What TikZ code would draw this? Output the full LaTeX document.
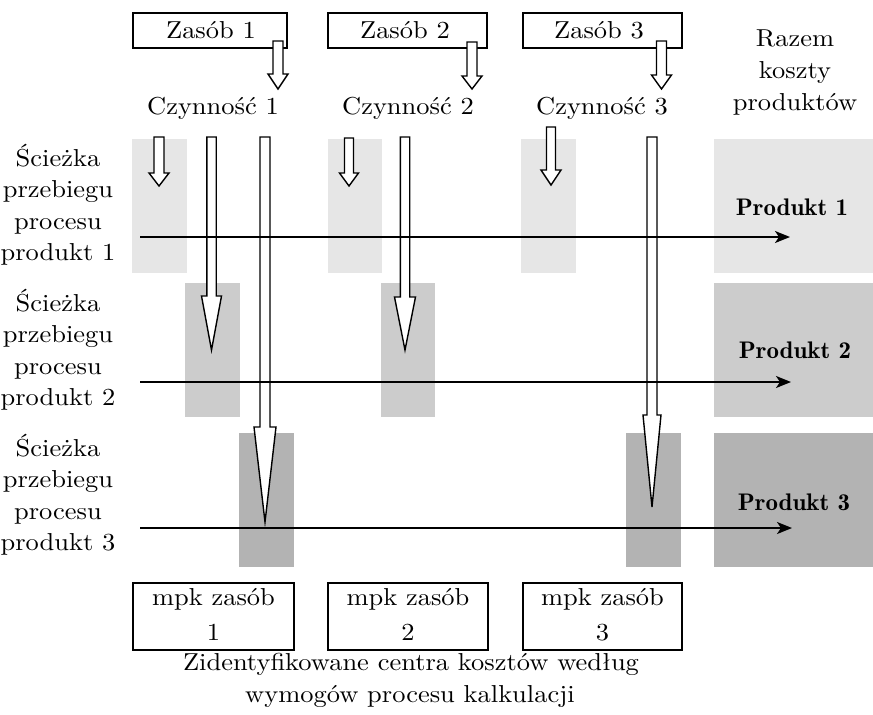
\documentclass[tikz,border=0pt]{standalone}
\usepackage{fontspec}
\setmainfont{lmroman10-regular.otf}[BoldFont=lmroman10-bold.otf, FakeStretch=1.08]
\newfontfamily\demifont{lmromandemi10-regular.otf}[FakeStretch=1.04]
\usetikzlibrary{arrows.meta}

\definecolor{rowA}{HTML}{E6E6E6}
\definecolor{rowB}{HTML}{CCCCCC}
\definecolor{rowC}{HTML}{B3B3B3}

\tikzset{
  txt/.style={font=\fontsize{24.5}{29}\selectfont, inner sep=0pt, anchor=base},
  btxt/.style={font=\demifont\fontsize{24}{28}\selectfont, inner sep=0pt, anchor=base},
  framebox/.style={draw=black, line width=2pt, fill=white, inner sep=0pt},
  hollow/.style={draw=black, fill=white, line width=1.4pt, line join=miter},
  flow/.style={line width=2pt, -{Stealth[length=15pt,width=12pt,inset=4pt]}},
}

% block arrow pointing down: x, top, head base, tip, shaft half width, head half width
\newcommand\blockdown[6]{%
  \draw[hollow] ({#1-#5},#2) -- ({#1+#5},#2) -- ({#1+#5},#3) -- ({#1+#6},#3)
    -- (#1,#4) -- ({#1-#6},#3) -- ({#1-#5},#3) -- cycle;}

\begin{document}
\begin{tikzpicture}[x=1pt,y=-1pt]
\useasboundingbox (0,0) rectangle (873,715);

% shaded process cells
\fill[rowA] (132,139) rectangle (187,273);
\fill[rowA] (328,139) rectangle (382,273);
\fill[rowA] (521,139) rectangle (576,273);
\fill[rowA] (714,139) rectangle (873,273);
\fill[rowB] (185,283) rectangle (240,417);
\fill[rowB] (381,283) rectangle (435,417);
\fill[rowB] (714,283) rectangle (873,417);
\fill[rowC] (239,433) rectangle (294,567);
\fill[rowC] (626,433) rectangle (681,567);
\fill[rowC] (714,433) rectangle (873,567);

% resource boxes
\node[framebox, minimum width=154pt, minimum height=35pt] (z1) at (210,30.5) {};
\node[framebox, minimum width=159pt, minimum height=35pt] (z2) at (407.5,30.5) {};
\node[framebox, minimum width=159pt, minimum height=35pt] (z3) at (602.5,30.5) {};
\node[txt] (z1t) at (211,38) {Zasób 1};
\node[txt] (z2t) at (405,38) {Zasób 2};
\node[txt] (z3t) at (599,38) {Zasób 3};

% activities
\node[txt] (c1) at (213,114) {Czynność 1};
\node[txt] (c2) at (408,114) {Czynność 2};
\node[txt] (c3) at (602,114) {Czynność 3};

% column header
\node[txt] (h1) at (795,46) {Razem};
\node[txt] (h2) at (795,78) {koszty};
\node[txt] (h3) at (795,110) {produktów};

% row labels
\node[txt] (a1) at (58,166) {Ścieżka};
\node[txt] (a2) at (58,197.5) {przebiegu};
\node[txt] (a3) at (58,229) {procesu};
\node[txt] (a4) at (58,260.5) {produkt 1};
\node[txt] (b1) at (58,311) {Ścieżka};
\node[txt] (b2) at (58,342.5) {przebiegu};
\node[txt] (b3) at (58,374) {procesu};
\node[txt] (b4) at (58,405.5) {produkt 2};
\node[txt] (d1) at (58,456) {Ścieżka};
\node[txt] (d2) at (58,487.5) {przebiegu};
\node[txt] (d3) at (58,519) {procesu};
\node[txt] (d4) at (58,550.5) {produkt 3};

% products
\node[btxt] (p1) at (792,215) {Produkt 1};
\node[btxt] (p2) at (795,358) {Produkt 2};
\node[btxt] (p3) at (794,510) {Produkt 3};

% cost centre boxes
\node[framebox, minimum width=161pt, minimum height=67pt] (m1) at (213.5,616.5) {};
\node[framebox, minimum width=160pt, minimum height=67pt] (m2) at (408,616.5) {};
\node[framebox, minimum width=159pt, minimum height=67pt] (m3) at (602.5,616.5) {};
\node[txt] (m1a) at (213.5,605) {mpk zasób};
\node[txt] (m1b) at (213.5,640) {1};
\node[txt] (m2a) at (408,605) {mpk zasób};
\node[txt] (m2b) at (408,640) {2};
\node[txt] (m3a) at (602.5,605) {mpk zasób};
\node[txt] (m3b) at (602.5,640) {3};

% caption
\node[txt] (cap1) at (411,670) {Zidentyfikowane centra kosztów według};
\node[txt] (cap2) at (410,702) {wymogów procesu kalkulacji};

% resource -> activity
\blockdown{278}{41}{74}{89}{5}{10}
\blockdown{472}{42}{76}{89}{5}{10}
\blockdown{661.5}{41}{75}{89}{5}{10}

% activity -> cells
\blockdown{159}{137}{173}{186}{5}{10}
\blockdown{349}{138}{173}{186}{4.5}{9.5}
\blockdown{551}{127}{170}{185}{4.5}{10}
\blockdown{211.5}{137}{296}{350}{4.7}{10}
\blockdown{405}{137}{297}{350}{4.7}{10.5}
\blockdown{265}{137}{427}{522}{5}{11}
\blockdown{652}{137}{415}{507}{5}{9}

% product flows
\coordinate (f1s) at (140,237); \coordinate (f1e) at (790,237);
\coordinate (f2s) at (140,382); \coordinate (f2e) at (791,382);
\coordinate (f3s) at (140,528); \coordinate (f3e) at (792,528);
\draw[flow] (f1s) -- (f1e);
\draw[flow] (f2s) -- (f2e);
\draw[flow] (f3s) -- (f3e);
\end{tikzpicture}
\end{document}
